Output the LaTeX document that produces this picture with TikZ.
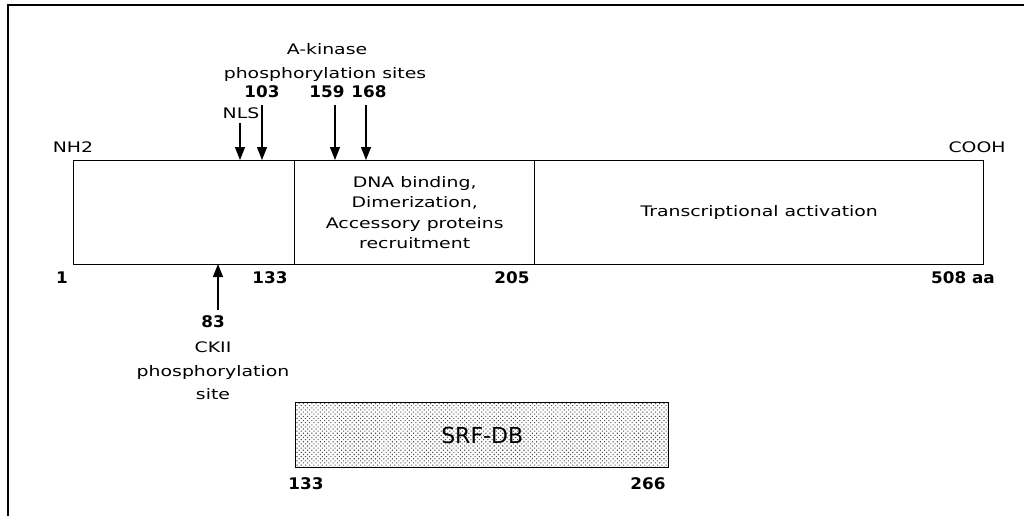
\documentclass[tikz,border=0pt]{standalone}
\usepackage{fontspec}
\setmainfont{DejaVu Sans}
\newfontfamily\regf[FakeStretch=1.3]{DejaVu Sans}
\newfontfamily\boldf[FakeStretch=1.05]{DejaVu Sans Bold}
\usetikzlibrary{arrows.meta,patterns.meta}
\begin{document}
\begin{tikzpicture}[x=1pt,y=-1pt,
  seg/.style={draw, line width=1.4pt, minimum height=104pt, anchor=north west,
    inner sep=0pt, align=center, font=\regf\fontsize{14.5}{20.5}\selectfont},
  lbl/.style={font=\regf\fontsize{14.5}{16}\selectfont, inner sep=0pt, anchor=base},
  num/.style={font=\boldf\fontsize{16}{18}\selectfont, inner sep=0pt, anchor=base},
  site/.style={line width=1.4pt, -{Triangle[length=13pt,width=10pt]}}]
\useasboundingbox (0,0) rectangle (1024,516);
\fill[white] (0,0) rectangle (1024,516);
% frame (top and left only)
\draw[line width=1.5pt] (8,516) -- (8,5) -- (1024,5);
% main protein bar
\node[seg, minimum width=221pt] (seg1) at (73,160) {};
\node[seg, minimum width=240pt] (seg2) at (294,160)
  {DNA binding,\\Dimerization,\\Accessory proteins\\recruitment};
\node[seg, minimum width=449pt] (seg3) at (534,160) {Transcriptional activation};
% SRF-DB bar
\node[draw, line width=1.4pt, anchor=north west, inner sep=0pt,
  minimum width=373pt, minimum height=65pt,
  pattern={Dots[distance=3pt,angle=45,radius=0.75pt]}, pattern color=black!70,
  font=\fontsize{22}{24}\selectfont] (srf) at (295,402) {SRF-DB};
% top labels
\node[lbl] (akin) at (327,55) {A-kinase};
\node[lbl] (phos) at (325,79) {phosphorylation sites};
\node[num] (n103) at (262,98) {103};
\node[num] (n159) at (327,98) {159};
\node[num] (n168) at (369,98) {168};
\node[lbl] (nls) at (241,118) {NLS};
\node[lbl] (nh2) at (73,152) {NH2};
\node[lbl] (cooh) at (977,152) {COOH};
% bottom numbers
\node[num] (n1) at (62,283) {1};
\node[num] (n133) at (270,283) {133};
\node[num] (n205) at (512,283) {205};
\node[num] (n508) at (963,283) {508 aa};
\node[num] (n83) at (213,327) {83};
\node[lbl] (ck1) at (213,352) {CKII};
\node[lbl] (ck2) at (213,376) {phosphorylation};
\node[lbl] (ck3) at (213,399) {site};
\node[num] (s133) at (306,489) {133};
\node[num] (s266) at (648,489) {266};
% arrow coordinates
\coordinate (aNLS) at (240,123);
\coordinate (tNLS) at (240,160);
\coordinate (a103) at (262,105);
\coordinate (t103) at (262,160);
\coordinate (a159) at (335,105);
\coordinate (t159) at (335,160);
\coordinate (a168) at (366,105);
\coordinate (t168) at (366,160);
\coordinate (a83) at (218,310);
\coordinate (t83) at (218,264);
\draw[site] (aNLS) -- (tNLS);
\draw[site] (a103) -- (t103);
\draw[site] (a159) -- (t159);
\draw[site] (a168) -- (t168);
\draw[site] (a83) -- (t83);
\end{tikzpicture}
\end{document}
